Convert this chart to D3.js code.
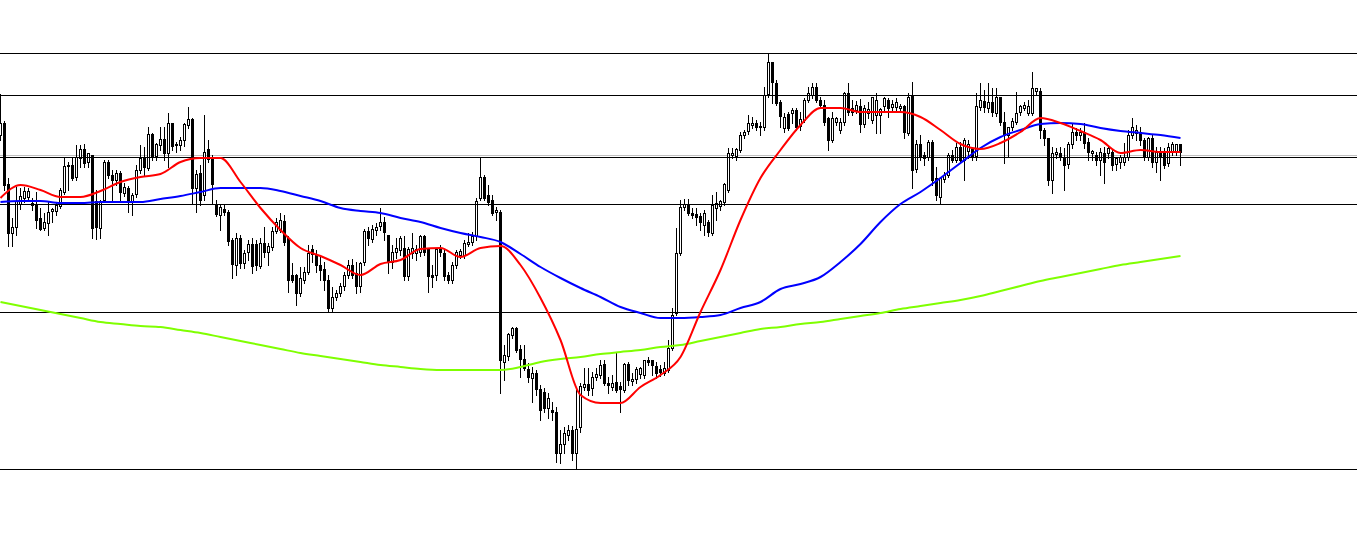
<!DOCTYPE html>
<html><head><meta charset="utf-8">
<script src="https://cdn.jsdelivr.net/npm/d3@7/dist/d3.min.js"></script>
<style>html,body{margin:0;padding:0;background:#fff;overflow:hidden}</style>
</head><body>
<svg id="chart" width="1357" height="554"></svg>
<script>
// OHLC price data (one value per bar)
const open = [865,877,815,766,772,796,802,803,797,796,782,772,777,788,788,794,808,834,835,822,842,851,837,845,799,772,800,838,825,820,827,807,811,798,805,829,841,832,866,843,855,861,847,877,854,854,859,875,881,812,827,805,850,842,796,785,791,788,759,735,762,737,747,755,755,734,757,748,753,769,770,779,762,725,725,707,720,728,750,745,735,731,720,692,703,707,714,725,735,727,714,737,768,761,770,773,777,765,738,748,750,752,723,746,746,747,763,750,725,724,751,747,725,720,735,745,745,756,757,763,802,823,805,800,787,788,638,643,665,672,651,641,630,622,627,611,608,592,590,588,547,556,565,570,547,572,613,616,612,623,625,636,617,613,618,613,610,636,619,620,625,625,640,639,634,630,627,630,652,687,747,793,796,787,786,784,775,777,767,792,793,797,810,845,843,850,865,868,875,877,874,873,905,937,917,897,872,886,887,890,873,880,900,905,913,900,895,882,860,878,870,878,907,892,890,894,876,887,880,885,885,893,900,893,892,891,893,867,905,830,855,845,843,858,822,803,821,825,845,840,853,840,848,850,843,893,898,891,897,887,903,878,865,873,878,887,892,887,887,908,909,870,862,820,846,847,843,835,855,868,865,868,858,847,845,840,847,847,848,835,837,838,843,865,867,868,860,843,862,838,848,847,837,848,848,855];
const high = [906,879,822,782,813,812,813,812,802,808,792,787,798,792,798,812,843,838,842,855,855,856,846,845,810,800,840,840,830,830,829,817,814,807,835,855,853,873,867,857,873,873,887,877,858,863,877,893,882,830,835,885,860,845,800,795,795,790,762,767,765,750,760,762,760,762,773,757,773,782,787,785,764,737,726,733,733,755,755,750,745,738,725,713,710,717,728,740,741,738,738,771,773,775,777,792,783,765,755,762,764,764,753,767,755,765,765,752,735,752,755,750,728,738,750,751,760,767,768,802,843,825,815,805,793,790,655,667,673,673,655,655,637,633,630,615,612,607,598,593,570,573,575,574,610,617,632,632,628,632,640,640,623,625,647,618,637,638,627,633,633,640,643,640,638,635,638,660,692,772,800,801,801,792,792,787,790,780,805,808,800,817,852,852,852,868,870,885,883,880,878,913,947,937,920,900,887,888,892,892,888,902,913,917,917,903,900,883,888,883,882,908,917,900,899,901,895,898,903,907,892,903,902,900,902,896,895,907,918,860,865,848,860,860,833,823,828,847,850,857,858,862,860,852,907,917,910,917,912,912,903,888,873,882,908,895,898,900,928,912,912,872,862,853,852,853,852,858,877,872,872,877,862,850,848,852,853,855,850,843,845,857,870,882,875,873,862,863,865,853,853,852,857,858,855,855];
const low = [860,810,754,754,765,791,798,800,790,772,770,770,765,778,785,792,806,810,820,820,833,833,833,762,761,762,798,822,800,815,800,804,788,785,803,827,825,830,840,840,850,840,833,850,848,850,854,872,797,788,795,800,838,797,784,770,785,755,722,725,732,732,740,727,730,732,743,735,750,767,768,755,708,718,695,704,717,726,738,728,720,710,688,689,700,704,710,722,722,707,708,735,755,758,765,770,760,727,732,742,745,720,720,742,740,744,745,708,713,720,744,720,717,717,732,742,742,754,755,760,800,800,795,785,780,607,620,640,662,648,623,630,618,598,605,580,588,582,580,538,537,547,560,540,531,568,610,605,605,620,622,615,607,610,608,588,608,615,615,617,622,622,635,625,622,624,625,628,650,685,745,790,785,782,775,770,765,764,765,780,790,795,808,842,840,848,862,866,872,870,865,870,903,897,895,873,868,870,877,870,870,878,898,902,898,892,875,850,858,875,867,875,885,885,887,868,873,882,877,867,867,890,883,890,888,889,862,865,812,828,840,835,840,815,800,797,818,823,838,838,838,820,842,840,840,890,888,888,884,884,875,837,843,870,876,885,890,885,885,905,862,855,815,807,842,840,810,832,852,860,860,852,840,840,835,825,817,842,830,830,832,835,840,862,860,855,840,840,833,828,820,832,834,845,845,835];
const close = [877,815,766,772,798,804,809,809,795,780,771,778,788,790,794,810,834,835,822,842,851,837,846,772,773,799,838,825,820,827,808,813,798,805,829,841,832,866,843,855,861,847,877,854,855,859,875,881,812,826,800,848,840,815,786,793,788,759,735,762,737,747,755,733,734,757,748,754,769,778,780,758,720,720,707,722,728,747,745,735,730,720,692,703,707,714,725,735,725,714,737,768,761,771,773,777,767,738,748,752,762,724,750,751,750,763,747,723,723,750,747,724,720,735,748,749,757,758,763,798,823,802,798,787,789,640,645,665,672,650,641,632,622,627,611,590,592,602,588,547,556,567,570,547,571,613,616,610,623,626,635,617,615,617,610,610,636,620,621,630,631,640,638,634,627,627,632,652,685,747,793,796,787,785,783,778,787,767,795,797,798,815,847,847,850,865,868,876,877,873,873,905,937,917,897,883,883,872,890,873,880,900,907,913,900,895,878,860,882,882,878,907,888,888,895,876,892,891,903,900,891,901,892,896,897,893,867,903,830,855,843,842,858,820,805,822,825,845,840,853,840,860,855,843,893,900,892,897,887,903,878,865,873,879,887,893,895,894,912,911,870,862,820,847,848,843,835,855,867,865,868,857,848,849,840,848,838,852,835,841,842,843,865,873,870,860,843,862,838,848,843,835,853,855,855,847];

// Moving averages, one reading every maStep bars
const maStep = 5;
const maFast = [802,815,810,803,803,809,818,823,826,838,842,842,818,792,770,752,744,735,725,736,740,751,752,743,752,754,735,702,660,605,597,597,613,625,643,688,730,780,822,850,875,892,892,888,888,888,883,870,856,851,857,868,882,877,869,860,847,850,848,848];
const maMid = [798,799,799,797,797,798,798,798,801,804,808,812,812,812,809,804,799,792,789,787,782,778,772,767,763,758,746,733,722,712,703,693,687,682,682,683,685,692,698,711,716,723,738,756,778,796,808,822,837,852,863,870,876,877,876,872,869,867,865,862];
const maSlow = [698,694,690,686,682,678,676,674,673,670,667,663,659,655,651,647,644,641,638,635,633,631,630,630,630,630,633,638,641,643,646,648,650,653,655,659,663,667,671,673,676,678,681,684,687,691,694,697,700,704,709,714,719,723,727,731,735,738,741,744];

// Horizontal price levels
const levels = [947, 905, 843, 796, 688, 531];
const bidLevel = 845;

const W = 1357, H = 554;
const svg = d3.select("#chart");
const n = open.length;
const x = d3.scaleLinear().domain([0, n - 1]).range([0.5, 4 * (n - 1) + 0.5]);
const y = d3.scaleLinear().domain([446, 1000]).range([H, 0]);
const crisp = v => Math.round(v - 0.5) + 0.5;

svg.append("rect").attr("width", W).attr("height", H).attr("fill", "#fff");

// bid line
svg.append("line")
  .attr("x1", 0).attr("x2", W)
  .attr("y1", crisp(y(bidLevel))).attr("y2", crisp(y(bidLevel)))
  .attr("stroke", "#c0c0c0").attr("stroke-width", 1);

const bars = d3.range(n);
const g = svg.append("g").attr("shape-rendering", "crispEdges");

g.selectAll("line.wick").data(bars).join("line")
  .attr("class", "wick")
  .attr("x1", i => x(i)).attr("x2", i => x(i))
  .attr("y1", i => Math.round(y(high[i])))
  .attr("y2", i => Math.round(y(low[i])) + 1)
  .attr("stroke", "#000").attr("stroke-width", 1);

g.selectAll("rect.body").data(bars).join("rect")
  .attr("class", "body")
  .attr("x", i => x(i) - 1)
  .attr("width", 2)
  .attr("y", i => crisp(y(Math.max(open[i], close[i]))))
  .attr("height", i => Math.max(1, Math.round(Math.abs(y(open[i]) - y(close[i])))))
  .attr("fill", i => close[i] >= open[i] ? "#fff" : "#000")
  .attr("stroke", "#000").attr("stroke-width", 1);

// level lines
svg.append("g").attr("shape-rendering", "crispEdges")
  .selectAll("line").data(levels).join("line")
  .attr("x1", 0).attr("x2", W)
  .attr("y1", d => crisp(y(d))).attr("y2", d => crisp(y(d)))
  .attr("stroke", "#000").attr("stroke-width", 1);

// moving averages
const maLine = d3.line()
  .x((d, k) => x(k * maStep))
  .y(d => y(d))
  .curve(d3.curveMonotoneX);

[[maSlow, "#7fff00"], [maMid, "#0000ff"], [maFast, "#ff0000"]].forEach(([vals, col]) => {
  svg.append("path")
    .attr("d", maLine(vals))
    .attr("fill", "none")
    .attr("stroke", col)
    .attr("stroke-width", 2);
});
</script>
</body></html>
